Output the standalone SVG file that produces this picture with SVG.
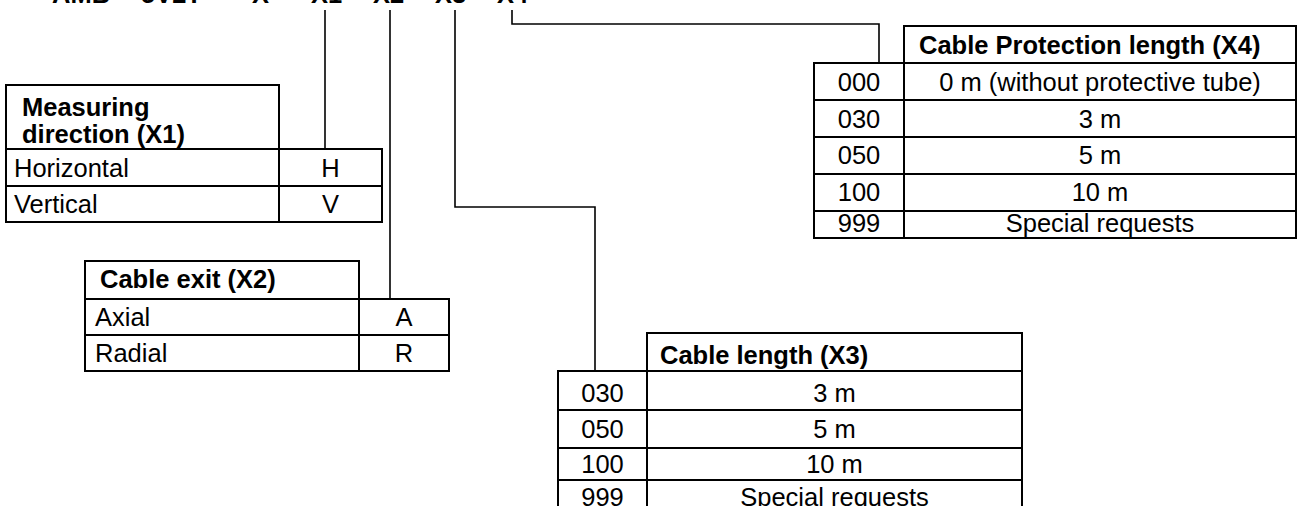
<svg xmlns="http://www.w3.org/2000/svg" width="1302" height="506" viewBox="0 0 1302 506">
<style>
  text { font-family: "Liberation Sans", Arial, sans-serif; font-size: 25.5px; fill: #000; }
  .b { font-weight: bold; }
  .m { text-anchor: middle; }
  .cell { fill: #fff; stroke: #000; stroke-width: 2; }
  .con { fill: none; stroke: #000; stroke-width: 1.6; }
</style>
<rect x="0" y="0" width="1302" height="506" fill="#fff"/>

<g id="code">
  <text class="b" y="3"><tspan x="52">AMB</tspan><tspan x="116">-</tspan><tspan x="141">5V2T</tspan><tspan x="226">-</tspan><tspan x="252">X</tspan><tspan x="286">-</tspan><tspan x="311">X1</tspan><tspan x="350">-</tspan><tspan x="373">X2</tspan><tspan x="412">-</tspan><tspan x="435">X3</tspan><tspan x="474">-</tspan><tspan x="497">X4</tspan></text>
</g>

<g id="connectors">
  <path class="con" d="M325 10 V149"/>
  <path class="con" d="M390 10 V299"/>
  <path class="con" d="M455 10 V207 H595 V371"/>
  <path class="con" d="M512 10 V24 H879 V63"/>
</g>

<g id="x1-table">
  <rect class="cell" x="6" y="85" width="273" height="64"/>
  <rect class="cell" x="6" y="149" width="273" height="37"/>
  <rect class="cell" x="279" y="149" width="103" height="37"/>
  <rect class="cell" x="6" y="186" width="273" height="36"/>
  <rect class="cell" x="279" y="186" width="103" height="36"/>
  <text class="b" x="22" y="116">Measuring</text>
  <text class="b" x="22" y="143">direction (X1)</text>
  <text x="14" y="177">Horizontal</text>
  <text class="m" x="330.5" y="177">H</text>
  <text x="14" y="213">Vertical</text>
  <text class="m" x="330.5" y="213">V</text>
</g>

<g id="x2-table">
  <rect class="cell" x="85" y="261" width="274" height="38"/>
  <rect class="cell" x="85" y="299" width="274" height="36"/>
  <rect class="cell" x="359" y="299" width="90" height="36"/>
  <rect class="cell" x="85" y="335" width="274" height="36"/>
  <rect class="cell" x="359" y="335" width="90" height="36"/>
  <text class="b" x="100" y="288">Cable exit (X2)</text>
  <text x="95" y="326">Axial</text>
  <text class="m" x="404" y="326">A</text>
  <text x="95" y="362">Radial</text>
  <text class="m" x="404" y="362">R</text>
</g>

<g id="x3-table">
  <rect class="cell" x="647" y="333" width="375" height="38"/>
  <rect class="cell" x="558" y="371" width="89" height="39"/>
  <rect class="cell" x="647" y="371" width="375" height="39"/>
  <rect class="cell" x="558" y="410" width="89" height="38"/>
  <rect class="cell" x="647" y="410" width="375" height="38"/>
  <rect class="cell" x="558" y="448" width="89" height="32"/>
  <rect class="cell" x="647" y="448" width="375" height="32"/>
  <rect class="cell" x="558" y="480" width="89" height="40"/>
  <rect class="cell" x="647" y="480" width="375" height="40"/>
  <text class="b" x="660" y="364">Cable length (X3)</text>
  <text class="m" x="602.5" y="402">030</text>
  <text class="m" x="834.5" y="402">3 m</text>
  <text class="m" x="602.5" y="438">050</text>
  <text class="m" x="834.5" y="438">5 m</text>
  <text class="m" x="602.5" y="473">100</text>
  <text class="m" x="834.5" y="473">10 m</text>
  <text class="m" x="602.5" y="506">999</text>
  <text class="m" x="834.5" y="506">Special requests</text>
</g>

<g id="x4-table">
  <rect class="cell" x="904" y="26" width="392" height="37"/>
  <rect class="cell" x="814" y="63" width="90" height="37"/>
  <rect class="cell" x="904" y="63" width="392" height="37"/>
  <rect class="cell" x="814" y="100" width="90" height="37"/>
  <rect class="cell" x="904" y="100" width="392" height="37"/>
  <rect class="cell" x="814" y="137" width="90" height="37"/>
  <rect class="cell" x="904" y="137" width="392" height="37"/>
  <rect class="cell" x="814" y="174" width="90" height="37"/>
  <rect class="cell" x="904" y="174" width="392" height="37"/>
  <rect class="cell" x="814" y="211" width="90" height="27"/>
  <rect class="cell" x="904" y="211" width="392" height="27"/>
  <text class="b" x="919" y="54">Cable Protection length (X4)</text>
  <text class="m" x="859" y="91">000</text>
  <text class="m" x="1100" y="91">0 m (without protective tube)</text>
  <text class="m" x="859" y="128">030</text>
  <text class="m" x="1100" y="128">3 m</text>
  <text class="m" x="859" y="164">050</text>
  <text class="m" x="1100" y="164">5 m</text>
  <text class="m" x="859" y="201">100</text>
  <text class="m" x="1100" y="201">10 m</text>
  <text class="m" x="859" y="232">999</text>
  <text class="m" x="1100" y="232">Special requests</text>
</g>
</svg>
